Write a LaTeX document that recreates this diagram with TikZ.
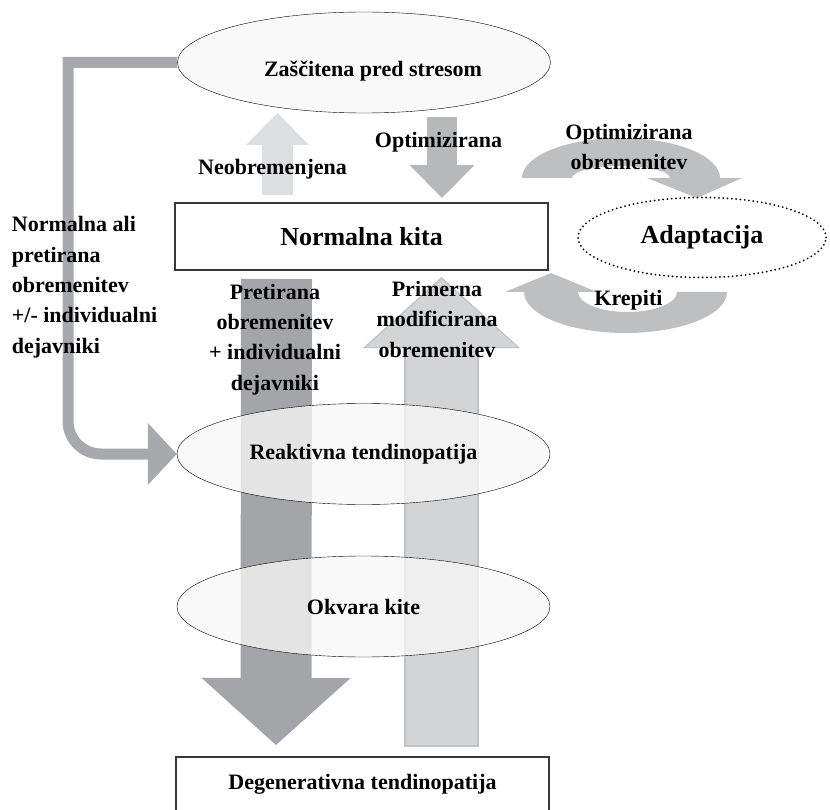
\documentclass[tikz,border=0pt]{standalone}
\usepackage{fontspec}
\setmainfont{Liberation Serif}
\usetikzlibrary{shapes.geometric, arrows.meta, backgrounds, calc}
\definecolor{flowdark}{HTML}{A4A5A8}
\definecolor{flowside}{HTML}{A8A9AC}
\definecolor{flowmid}{HTML}{BEBFC1}
\definecolor{flowdown}{HTML}{B7B8BA}
\definecolor{flowlight}{HTML}{DDDEE0}
\definecolor{flowpale}{HTML}{D3D4D6}
\definecolor{flowedge}{HTML}{C0C1C3}
\tikzset{
	state/.style={
		draw,
		ellipse,
		fill=black!3,
		fill opacity=0.78,
		text opacity=1,
		inner sep=0pt,
		minimum width=373pt,
		minimum height=101pt
	},
	box/.style={
		draw=black!78,
		line width=1.2pt,
		rectangle,
		fill=white,
		inner sep=0pt,
		minimum width=373pt
	},
	txt/.style={font=\bfseries\fontsize{22}{30.4}\selectfont, inner sep=0pt, align=center},
	bigtxt/.style={font=\bfseries\fontsize{26}{30}\selectfont, inner sep=0pt}
}

\begin{document}
\begin{tikzpicture}[x=1pt, y=-1pt]
	\useasboundingbox (0,0) rectangle (830,810);
	\clip (0,0) rectangle (830,810);
	\tikzset{flow/.style={line width=#1, -{Triangle[length=\tiplen, width=\tipwid, line width=0pt]}}}
	
	% states
	\node(zas) at (364,62.5) [state] {};
	\node(kita) at (361.5,236.5) [box, minimum height=67pt] {};
	\node(adapt) at (702,237.5) [state, draw=black, line width=2pt, dash pattern=on 0pt off 4.3pt, line cap=round, fill=white, minimum width=248pt, minimum height=80pt] {};
	\node(reak) at (363.5,454) [state] {};
	\node(okv) at (363.5,606.5) [state] {};
	\node(degen) at (362.5,784.5) [box, minimum height=55pt] {};
	
	\coordinate(neob_start) at (277.5,195);
	\coordinate(neob_tip) at (277.5,113);
	\coordinate(opt_start) at (442,117);
	\coordinate(opt_tip) at (442,198);
	\coordinate(pret_start) at (276.5,279);
	\coordinate(pret_tip) at (276,745);
	\coordinate(prim_start) at (441.5,747);
	\coordinate(prim_tip) at (441.5,277);
	
	\begin{pgfonlayer}{background}
		\def\tiplen{29pt}\def\tipwid{62pt}
		\draw[flow=11pt, flowside] (zas.west) -- (68,62.5) -- (68,400) [rounded corners=33pt] -- (68,454) -- (reak.west);
		\def\tiplen{32pt}\def\tipwid{63pt}
		\draw[flow=31pt, flowlight] (neob_start) -- (neob_tip);
		\def\tiplen{33pt}\def\tipwid{65pt}
		\draw[flow=30pt, flowdown] (opt_start) -- (opt_tip);
		\def\tiplen{67pt}\def\tipwid{149pt}
		\draw[flow=71pt, flowdark] (pret_start) -- (pret_tip);
		\def\tiplen{71pt}\def\tipwid{157pt}
		\draw[flow=75pt, flowedge] (prim_start) -- (prim_tip);
		\def\tiplen{68pt}\def\tipwid{151pt}
		\draw[flow=71pt, flowpale] ($(prim_start)+(0,-2)$) -- ($(prim_tip)+(0,2)$);
		
		% curved arrows round Adaptacija
		\fill[flowmid] (522,178) arc[start angle=180, end angle=360, x radius=99, y radius=40]
			-- (742,178) -- (697,198) -- (647,178) -- (670,178)
			arc[start angle=0, end angle=-180, x radius=49, y radius=12] -- cycle;
		\fill[flowmid] (727,292) arc[start angle=0, end angle=180, x radius=101.5, y radius=41]
			-- (505,292) -- (551,273) -- (597,292) -- (578,292)
			arc[start angle=180, end angle=0, x radius=49.5, y radius=20] -- cycle;
	\end{pgfonlayer}
	
	% texts
	\node(zas_lbl) at (373,77) [txt, anchor=base] {Zaščitena pred stresom};
	\node(kita_lbl) at (kita) [bigtxt] {Normalna kita};
	\node(adapt_lbl) at (adapt) [bigtxt] {Adaptacija};
	\node(reak_lbl) at (reak) [txt] {Reaktivna tendinopatija};
	\node(okv_lbl) at (okv) [txt] {Okvara kite};
	\node(degen_lbl) at (degen) [txt] {Degenerativna tendinopatija};
	
	\node(neob_lbl) at (272.5,175) [txt, anchor=base] {Neobremenjena};
	\node(opt_lbl) at (438.5,148) [txt, anchor=base] {Optimizirana};
	\node(optob_lbl) at (629,170) [txt, anchor=base] {Optimizirana\\obremenitev};
	\node(krep_lbl) at (628.5,305.5) [txt, anchor=base] {Krepiti};
	\node(side_lbl) at (11.7,353.3) [txt, anchor=base west, align=left] {Normalna ali\\pretirana\\obremenitev\\+/- individualni\\dejavniki};
	\node(pret_lbl) at (275,390.2) [txt, anchor=base] {Pretirana\\obremenitev\\+ individualni\\dejavniki};
	\node(prim_lbl) at (437,357) [txt, anchor=base] {Primerna\\modificirana\\obremenitev};
	
\end{tikzpicture}
\end{document}
